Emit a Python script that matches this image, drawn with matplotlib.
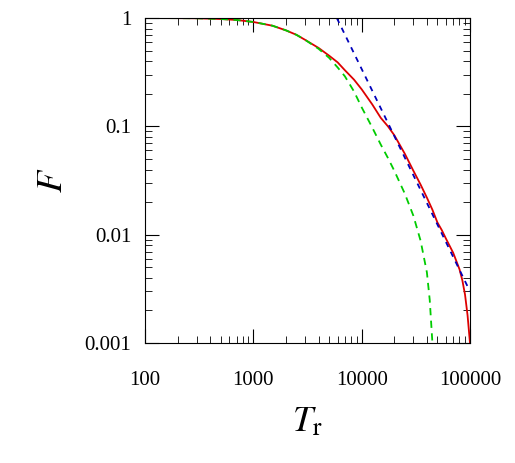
import matplotlib
matplotlib.use("Agg")
import matplotlib.pyplot as plt
from matplotlib.ticker import LogLocator, FixedLocator, NullFormatter

plt.rcParams['font.family'] = ['Liberation Serif', 'DejaVu Serif']
plt.rcParams['mathtext.fontset'] = 'stix'

# datos
t_rojo = [100, 200, 300, 500, 700, 1000, 1500, 2000, 2500, 3000, 4000, 5000, 6000,
          7000, 8500, 10000, 12500, 15000, 17500, 20000, 25000, 30000, 35000,
          40000, 45000, 50000, 55000, 60000, 70000, 80000, 85000, 90000, 95000, 100000]
f_rojo = [1.0, 0.998, 0.995, 0.98, 0.96, 0.92, 0.85, 0.77, 0.70, 0.63, 0.53, 0.45,
          0.39, 0.33, 0.27, 0.22, 0.16, 0.12, 0.10, 0.083, 0.056, 0.039, 0.029,
          0.022, 0.017, 0.013, 0.011, 0.0092, 0.0068, 0.0048, 0.0038, 0.0028,
          0.0018, 0.001]
t_verde = [100, 200, 300, 500, 700, 1000, 1500, 2000, 2500, 3000, 4000, 5000, 6000,
           7000, 8500, 10000, 12500, 15000, 17500, 20000, 25000, 30000, 35000,
           40000, 42500, 45000]
f_verde = [1.0, 0.998, 0.995, 0.98, 0.96, 0.92, 0.85, 0.77, 0.70, 0.63, 0.52, 0.43,
           0.35, 0.29, 0.21, 0.15, 0.098, 0.068, 0.051, 0.039, 0.024, 0.015,
           0.0088, 0.0045, 0.0025, 0.001]
t_azul = [5900, 100000]
f_azul = [1.0, 0.0030]

fig = plt.figure(figsize=(5.15, 4.63), dpi=100)
ax = fig.add_axes([0.2816, 0.259, 0.631, 0.702])

ax.plot(t_rojo, f_rojo, color='#dd0000', lw=1.3)
ax.plot(t_verde, f_verde, color='#00cc00', lw=1.3, ls=(0, (4, 3)))
ax.plot(t_azul, f_azul, color='#0000bb', lw=1.3, ls=(0, (3, 3)))

ax.set_xscale('log')
ax.set_yscale('log')
ax.set_xlim(100, 100000)
ax.set_ylim(0.001, 1)
ax.xaxis.set_major_locator(FixedLocator([100, 1000, 10000, 100000]))
ax.yaxis.set_major_locator(FixedLocator([0.001, 0.01, 0.1, 1]))
ax.set_xticklabels(['100', '1000', '10000', '100000'])
ax.set_yticklabels(['0.001', '0.01', '0.1', '1'])
ax.xaxis.set_minor_locator(LogLocator(base=10, subs=range(2, 10)))
ax.yaxis.set_minor_locator(LogLocator(base=10, subs=range(2, 10)))
ax.xaxis.set_minor_formatter(NullFormatter())
ax.yaxis.set_minor_formatter(NullFormatter())
ax.tick_params(which='both', direction='in', top=True, right=True, labelsize=15)
ax.tick_params(which='major', length=10)
ax.tick_params(axis='x', which='major', pad=20)
ax.tick_params(axis='y', which='major', pad=10)
ax.tick_params(which='minor', length=5)

ax.set_xlabel(r'$T_{\rm r}$', fontsize=26, labelpad=12)
ax.set_ylabel(r'$F$', fontsize=26, labelpad=10)

plt.savefig('out.png')
